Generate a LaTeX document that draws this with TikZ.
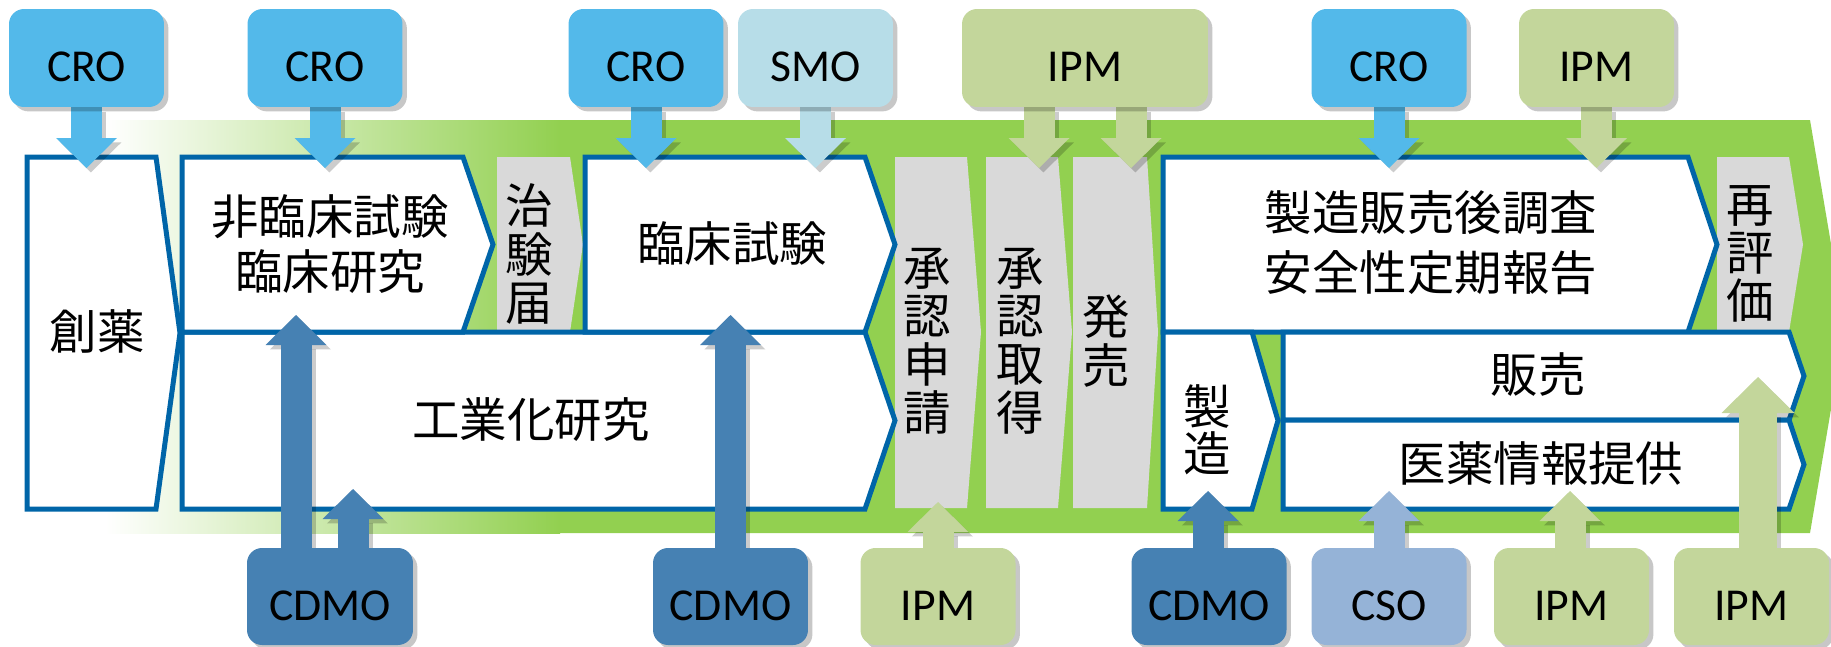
\documentclass[tikz,border=0pt]{standalone}
\usepackage{fontspec}
\setmainfont{Carlito}
\newfontfamily\jp{Noto Sans CJK JP}
\usetikzlibrary{arrows.meta,shadows}
\definecolor{grn}{HTML}{92D050}
\definecolor{bblue}{HTML}{0065A8}
\definecolor{crocol}{HTML}{53B9EA}
\definecolor{smocol}{HTML}{B7DDE8}
\definecolor{ipmcol}{HTML}{C3D69B}
\definecolor{cdmocol}{HTML}{4681B3}
\definecolor{csocol}{HTML}{95B3D7}
\definecolor{gbox}{HTML}{D9D9D9}
\pgfdeclarelayer{bg}
\pgfdeclarelayer{mid}
\pgfsetlayers{bg,mid,main}
\begin{document}
\begin{tikzpicture}[x=0.02cm,y=-0.02cm,
  wbox/.style={fill=white,draw=bblue,line width=0.1cm},
  gshape/.style={fill=gbox},
  lbl/.style={rounded corners=0.3cm,minimum width=3.1cm,minimum height=1.96cm,inner sep=0pt,
    font=\fontsize{26}{30}\selectfont,text height=27pt,text depth=0pt,
    drop shadow={shadow xshift=2.5pt,shadow yshift=-2.5pt,opacity=0.22,fill=black}},
  jt/.style={font=\jp\fontsize{27}{27.5}\selectfont,inner sep=0pt,align=center},
  barrow/.style={line width=0.62cm,-{Triangle[width=1.22cm,length=0.6cm,line width=0pt]}},
  bigarrow/.style={line width=0.76cm,-{Triangle[width=1.46cm,length=0.72cm,line width=0pt]}},
  ash/.style={black,opacity=0.2,transform canvas={shift={(2.5pt,-2.5pt)}}}
]
\useasboundingbox (0,0) rectangle (1831,646);
\clip (0,0) rectangle (1831,646);

\begin{pgfonlayer}{bg}
  % green band
  \fill[grn] (558,120) -- (1810,120) -- (1845,326.5) -- (1810,533) -- (558,533) -- cycle;
  \shade[left color=white,right color=grn] (105,120) rectangle (560,533);
  % gray stages
  \fill[gshape] (497,157) -- (570,157) -- (583,244.5) -- (570,332) -- (497,332) -- cycle;
  \fill[gshape] (895,157) -- (967,157) -- (981,332) -- (967,508) -- (895,508) -- cycle;
  \fill[gshape] (986,157) -- (1058,157) -- (1072,332) -- (1058,508) -- (986,508) -- cycle;
  \fill[gshape] (1073,157) -- (1147,157) -- (1158,332) -- (1147,508) -- (1073,508) -- cycle;
  \fill[gshape] (1717,157) -- (1789,157) -- (1803,244.5) -- (1789,332) -- (1717,332) -- cycle;
  % white stages
  \filldraw[wbox] (27,157) -- (156,157) -- (180,333) -- (156,509) -- (27,509) -- cycle;
  \filldraw[wbox] (182,332) -- (865,332) -- (895,420.5) -- (865,509) -- (182,509) -- cycle;
  \filldraw[wbox] (182,157) -- (463,157) -- (493,244.5) -- (463,332) -- (182,332) -- cycle;
  \filldraw[wbox] (585,157) -- (865,157) -- (895,244.5) -- (865,332) -- (585,332) -- cycle;
  \filldraw[wbox] (1163,157) -- (1688,157) -- (1717,244.5) -- (1688,332) -- (1163,332) -- cycle;
  \filldraw[wbox] (1163,332) -- (1252,332) -- (1278,420.5) -- (1252,509) -- (1163,509) -- cycle;
  \filldraw[wbox] (1283,332) -- (1789,332) -- (1804,376) -- (1789,420) -- (1283,420) -- cycle;
  \filldraw[wbox] (1283,420) -- (1789,420) -- (1804,464.5) -- (1789,509) -- (1283,509) -- cycle;
\end{pgfonlayer}

% stage texts
\node[jt] (tsoyaku) at (97,331) {創薬};
\node[jt,font=\jp\fontsize{27}{31.7}\selectfont] (thirin) at (330,244) {非臨床試験\\臨床研究};
\node[jt] (tchiken) at (529,254) {治\\験\\届};
\node[jt] (trinsho) at (732,243) {臨床試験};
\node[jt] (tkogyo) at (531,420) {工業化研究};
\node[jt] (tshinsei) at (927,341) {承\\認\\申\\請};
\node[jt] (tshutoku) at (1020,341) {承\\認\\取\\得};
\node[jt] (thatsu) at (1106,341) {発\\売};
\node[jt,font=\jp\fontsize{27}{34}\selectfont] (tpms) at (1431,243) {製造販売後調査\\安全性定期報告};
\node[jt] (tsaihyo) at (1750,254) {再\\評\\価};
\node[jt,font=\jp\fontsize{27}{26.6}\selectfont] (tseizo) at (1207,430) {製\\造};
\node[jt] (thanbai) at (1538,375) {販売};
\node[jt] (tiyaku) at (1541,464) {医薬情報提供};

% top label boxes
\node[lbl,fill=crocol] (cro1) at (86.5,58) {CRO};
\node[lbl,fill=crocol] (cro2) at (325,58) {CRO};
\node[lbl,fill=crocol] (cro3) at (646,58) {CRO};
\node[lbl,fill=smocol] (smo) at (815.5,58) {SMO};
\node[lbl,fill=ipmcol,minimum width=4.92cm] (ipmt1) at (1085,58) {IPM};
\node[lbl,fill=crocol] (cro4) at (1389,58) {CRO};
\node[lbl,fill=ipmcol] (ipmt2) at (1596.5,58) {IPM};

% bottom label boxes
\node[lbl,fill=cdmocol,minimum width=3.32cm,minimum height=1.94cm] (cdmo1) at (330,596.5) {CDMO};
\node[lbl,fill=cdmocol,minimum height=1.94cm] (cdmo2) at (730.5,596.5) {CDMO};
\node[lbl,fill=ipmcol,minimum height=1.94cm] (ipmb1) at (938,596.5) {IPM};
\node[lbl,fill=cdmocol,minimum height=1.94cm] (cdmo3) at (1209,596.5) {CDMO};
\node[lbl,fill=csocol,minimum height=1.94cm] (cso) at (1389,596.5) {CSO};
\node[lbl,fill=ipmcol,minimum height=1.94cm] (ipmb2) at (1571.5,596.5) {IPM};
\node[lbl,fill=ipmcol,minimum height=1.94cm] (ipmb3) at (1751.5,596.5) {IPM};

% arrow tips
\coordinate (a1) at (86.5,168);
\coordinate (a2) at (325,168);
\coordinate (a3) at (646,168);
\coordinate (a4) at (815.5,168);
\coordinate (a5) at (1039,168);
\coordinate (a6) at (1131,168);
\coordinate (a7) at (1389,168);
\coordinate (a8) at (1596.5,168);
\coordinate (b1) at (296,315);
\coordinate (b2) at (353,489);
\coordinate (b3) at (730.5,315);
\coordinate (b4) at (938,502);
\coordinate (b5) at (1208,491);
\coordinate (b6) at (1389,491);
\coordinate (b7) at (1570,491);
\coordinate (b8) at (1758,377);

\begin{pgfonlayer}{mid}
  \foreach \c/\n/\t in {crocol/cro1/a1,crocol/cro2/a2,crocol/cro3/a3,smocol/smo/a4,
      ipmcol/ipmt1/a5,ipmcol/ipmt1/a6,crocol/cro4/a7,ipmcol/ipmt2/a8}{
    \draw[barrow,ash] (\t |- \n.south) -- (\t);
    \draw[barrow,\c] (\t |- \n.south) -- (\t);
  }
  \foreach \c/\n/\t in {cdmocol/cdmo1/b1,cdmocol/cdmo1/b2,cdmocol/cdmo2/b3,ipmcol/ipmb1/b4,
      cdmocol/cdmo3/b5,csocol/cso/b6,ipmcol/ipmb2/b7}{
    \draw[barrow,ash] (\t |- \n.north) -- (\t);
    \draw[barrow,\c] (\t |- \n.north) -- (\t);
  }
  \draw[bigarrow,ash] (b8 |- ipmb3.north) -- (b8);
  \draw[bigarrow,ipmcol] (b8 |- ipmb3.north) -- (b8);
\end{pgfonlayer}
\end{tikzpicture}
\end{document}
